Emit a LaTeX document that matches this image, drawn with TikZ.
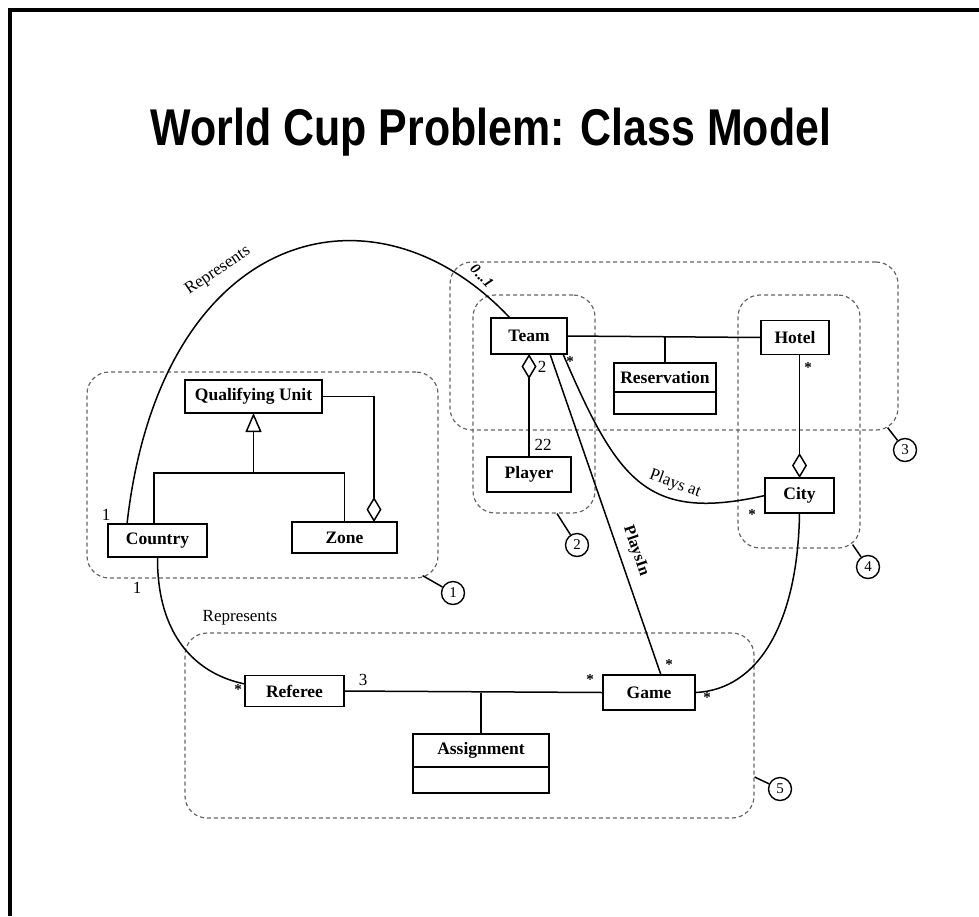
\documentclass[tikz,border=0pt]{standalone}
\usepackage{fontspec}
\setmainfont{Liberation Serif}
\newfontfamily\titlefont[FakeStretch=0.83]{Liberation Sans}
\usetikzlibrary{positioning,arrows.meta}
\begin{document}
\begin{tikzpicture}[x=1pt,y=-1pt,
  every node/.style={align=center},
  cls/.style={draw, line width=1.5pt, inner sep=0pt, outer sep=0pt, font=\fontsize{17.5}{20}\selectfont\bfseries},
  attr/.style={draw, line width=1.5pt, inner sep=0pt, outer sep=0pt},
  grp/.style={draw=black!60, dash pattern=on 4pt off 3pt, line width=1.2pt, rounded corners=22pt, inner sep=0pt},
  conn/.style={line width=1.5pt},
  agg/.style={arrows={Diamond[open,length=25pt,width=15pt]-}},
  mult/.style={font=\fontsize{17}{19}\selectfont, inner sep=0pt},
  star/.style={font=\fontsize{15}{15}\selectfont\bfseries, inner sep=0pt},
  marker/.style={draw, circle, line width=1.4pt, minimum size=23pt, inner sep=0pt, font=\fontsize{15}{15}\selectfont}]
  \useasboundingbox (0,0) rectangle (979,916);
  \draw[line width=4pt] (10,916) -- (10,10) -- (979,10);

  \node[font=\titlefont\bfseries\fontsize{51.7}{60}\selectfont, anchor=base] (title) at (491,145) {World Cup Problem: Class Model};

  % dashed groups
  \node[grp, minimum width=351pt, minimum height=206pt] (g1) at (262.5,475) {};
  \node[grp, minimum width=122pt, minimum height=218pt] (g2) at (534,404) {};
  \node[grp, minimum width=448pt, minimum height=168pt] (g3) at (674,346) {};
  \node[grp, minimum width=122pt, minimum height=253pt] (g4) at (799,421.5) {};
  \node[grp, minimum width=569pt, minimum height=185pt] (g5) at (469.5,725.5) {};

  \node[marker] (n1) at (453,593) {1};
  \node[marker] (n2) at (577,545) {2};
  \node[marker] (n3) at (905,450) {3};
  \node[marker] (n4) at (868,567) {4};
  \node[marker] (n5) at (780,789) {5};
  \draw[conn] ([xshift=-16pt,yshift=3pt]g1.south east) -- (n1);
  \draw[conn] ([xshift=23pt]g2.south) -- (n2);
  \draw[conn] ([xshift=-11pt,yshift=3pt]g3.south east) -- (n3);
  \draw[conn] ([xshift=-8pt,yshift=4pt]g4.south east) -- (n4);
  \draw[conn] ([yshift=-51.5pt]g5.east) -- (n5);

  % classes
  \node[cls, minimum width=76pt, minimum height=36pt] (team) at (529,336) {Team};
  \node[cls, minimum width=102pt, minimum height=29pt] (resv) at (665,377.5) {Reservation};
  \node[attr, minimum width=102pt, minimum height=22pt, below=0pt of resv] (resvattr) {};
  \node[cls, minimum width=68pt, minimum height=34pt] (hotel) at (795,337.5) {Hotel};
  \node[cls, minimum width=84pt, minimum height=35pt] (player) at (529,474.5) {Player};
  \node[cls, minimum width=69pt, minimum height=35pt] (city) at (799.5,495.5) {City};
  \node[cls, minimum width=137pt, minimum height=33pt] (qu) at (253.5,396.5) {Qualifying Unit};
  \node[cls, minimum width=99pt, minimum height=33pt] (country) at (157.5,540.5) {Country};
  \node[cls, minimum width=105pt, minimum height=31pt] (zone) at (344.5,537.5) {Zone};
  \node[cls, minimum width=99pt, minimum height=31pt] (referee) at (294.5,691) {Referee};
  \node[cls, minimum width=92pt, minimum height=35pt] (game) at (649,692.5) {Game};
  \node[cls, minimum width=136pt, minimum height=33pt] (assign) at (481,750.5) {Assignment};
  \node[attr, minimum width=136pt, minimum height=26pt, below=0pt of assign] (assignattr) {};

  % Country represents Team
  \draw[conn] ([xshift=-30.5pt]country.north) .. controls (160,230) and (372,171) .. ([xshift=-19pt]team.north);
  \node[mult, rotate=34] (rep1) at (218,271) {Represents};
  \node[star, font=\fontsize{15}{15}\selectfont\bfseries\itshape, rotate=-46] (zeroone) at (482,276) {0...1};
  \node[mult] (one1) at (106,515) {1};

  % Country represents Referee
  \draw[conn] (country.south) .. controls (157,640) and (200,675) .. ([yshift=7pt]referee.west);
  \node[mult] (rep2) at (240,618) {Represents};
  \node[mult] (one2) at (137,588) {1};
  \node[star] (s1) at (238,690) {*};

  % Qualifying Unit
  \coordinate (gen) at (253.5,473);
  \draw[conn] ([xshift=-3.5pt]country.north) |- (gen) -| (zone.north);
  \draw[conn, -{Triangle[open,length=19pt,width=16pt]}] (gen) -- (qu.south);
  \draw[conn, agg] ([xshift=29.5pt]zone.north) |- (qu.east);

  % Team, Hotel, Reservation
  \draw[conn] (team.east) -- (hotel.west);
  \draw[conn] (resv.north) -- (resv.north |- team.east);
  \draw[conn, agg] (team.south) -- (player.north);
  \node[mult] (two) at (542,367) {2};
  \node[mult] (twentytwo) at (543,445) {22};
  \draw[conn, agg] (city.north) -- (city.north |- hotel.south);
  \node[star] (s2) at (808,368) {*};

  % PlaysIn and Plays at
  \draw[conn] ([xshift=21pt]team.south) -- ([xshift=12pt]game.north);
  \node[mult, font=\fontsize{16}{18}\selectfont\bfseries, rotate=-71] (playsin) at (636,551) {PlaysIn};
  \node[star] (s3) at (669,665) {*};
  \draw[conn] ([xshift=34pt]team.south) .. controls (618,482) and (647,522) .. (city.west);
  \node[mult, rotate=-20] (playsat) at (675,484) {Plays at};
  \node[star] (s4) at (570,362) {*};
  \node[star] (s5) at (752,515) {*};

  % City and Game
  \draw[conn] (city.south) .. controls (798,620) and (760,690) .. (game.east);
  \node[star] (s6) at (707,698) {*};

  % Assignment
  \draw[conn] (referee.east) -- (game.west);
  \draw[conn] (assign.north) -- (assign.north |- game.west);
  \node[mult] (three) at (363,680) {3};
  \node[star] (s7) at (590,680) {*};
\end{tikzpicture}
\end{document}
